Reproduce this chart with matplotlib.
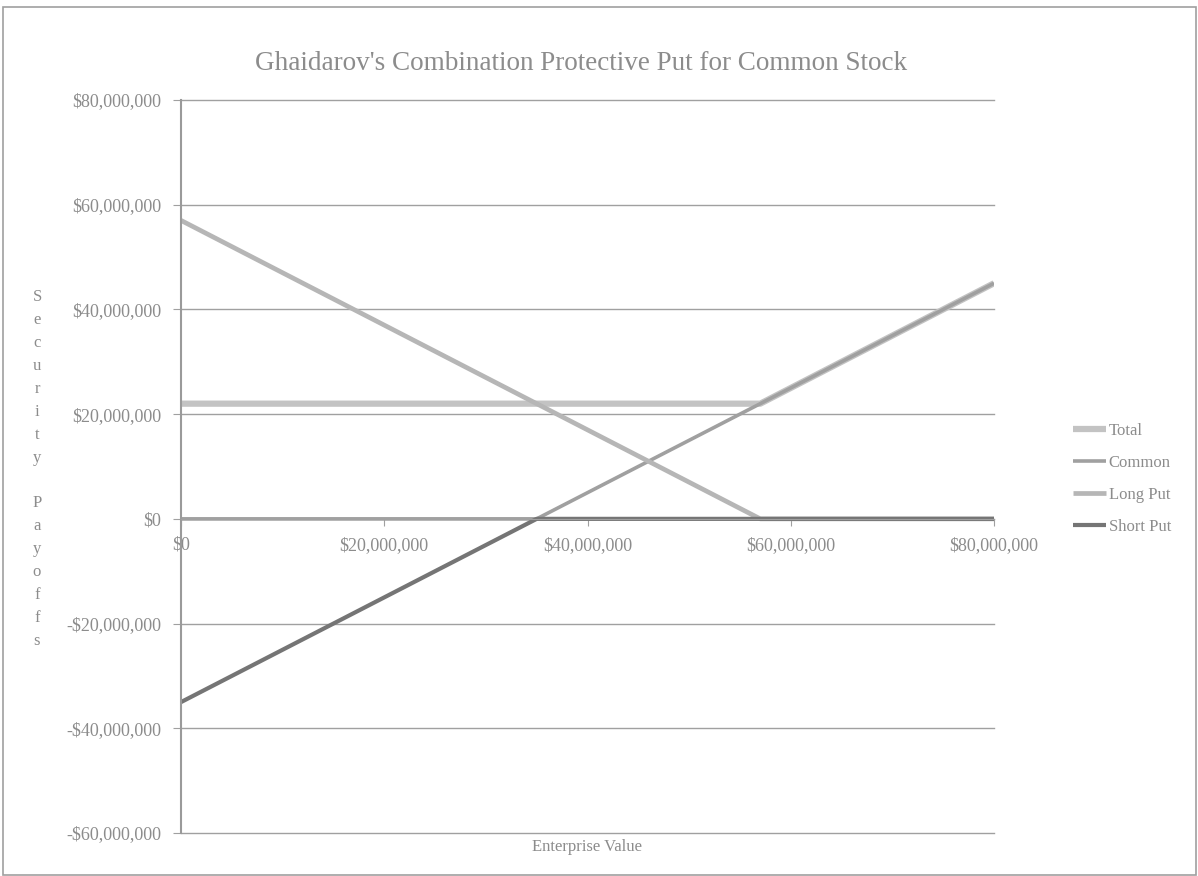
import matplotlib
matplotlib.use("Agg")
import matplotlib.pyplot as plt
from matplotlib.ticker import FuncFormatter, MultipleLocator
from matplotlib.patches import Rectangle

# enterprise value breakpoints and payoffs
ev = [0, 35e6, 57e6, 80e6]
total = [22e6, 22e6, 22e6, 45e6]
common = [0, 0, 22e6, 45e6]
long_put = [57e6, 22e6, 0, 0]
short_put = [-35e6, 0, 0, 0]

series_names = ["Total", "Common", "Long Put", "Short Put"]

plt.rcParams['font.family'] = ['Liberation Serif', 'DejaVu Serif']
txt = '#8c8c8c'

fig = plt.figure(figsize=(11.98, 8.76), dpi=100)
ax = fig.add_axes([181/1198, 43/876, 813/1198, 733/876])

ax.plot(ev, total, color='#c3c3c3', lw=4.5, label=series_names[0], solid_capstyle='butt')
ax.plot(ev, common, color='#a0a0a0', lw=2.6, label=series_names[1], solid_capstyle='butt')
ax.plot(ev, long_put, color='#b6b6b6', lw=3.4, label=series_names[2], solid_capstyle='butt')
ax.plot(ev, short_put, color='#757575', lw=3.0, label=series_names[3], solid_capstyle='butt')

ax.set_xlim(0, 80e6)
ax.set_ylim(-60e6, 80e6)
ax.xaxis.set_major_locator(MultipleLocator(20e6))
ax.yaxis.set_major_locator(MultipleLocator(20e6))

def money(v, pos):
    if v < 0:
        return "-${:,.0f}".format(-v)
    return "${:,.0f}".format(v)

ax.xaxis.set_major_formatter(FuncFormatter(money))
ax.yaxis.set_major_formatter(FuncFormatter(money))

ax.grid(axis='y', color='#a0a0a0', lw=1)
ax.set_axisbelow(True)
for gl in ax.get_ygridlines():
    gl.set_clip_on(False)
for s in ['top', 'right']:
    ax.spines[s].set_visible(False)
ax.spines['bottom'].set_position(('data', 0))
ax.spines['bottom'].set_color('#a0a0a0')
ax.spines['left'].set_color('#9a9a9a')
ax.spines['left'].set_linewidth(1.5)

ax.tick_params(axis='y', direction='out', length=6, color='#a0a0a0', labelcolor=txt, labelsize=13, pad=8)
ax.tick_params(axis='x', direction='out', length=5, color='#a0a0a0', labelcolor=txt, labelsize=13, pad=8)

fig.text(581/1198, 1 - 64/876, "Ghaidarov's Combination Protective Put for Common Stock",
         ha='center', va='center', fontsize=19.5, color=txt)
fig.text(587/1198, 1 - 847/876, "Enterprise Value", ha='center', va='center', fontsize=12, color=txt)
fig.text(37/1198, 1 - 469/876, "\n".join("Security Payoffs"), ha='center', va='center',
         fontsize=12, color=txt, linespacing=1.58)

leg = fig.legend(loc='center left', bbox_to_anchor=(1058/1198, 1 - 479/876), frameon=False,
                 handlelength=2.0, handletextpad=0.15, labelspacing=0.95, fontsize=12)
for t in leg.get_texts():
    t.set_color(txt)

fig.patches.append(Rectangle((3/1198, 1/876), 1193/1198, 868/876, transform=fig.transFigure,
                             fill=False, edgecolor='#a0a0a0', lw=1.2))

fig.savefig("out.png", dpi=100)
